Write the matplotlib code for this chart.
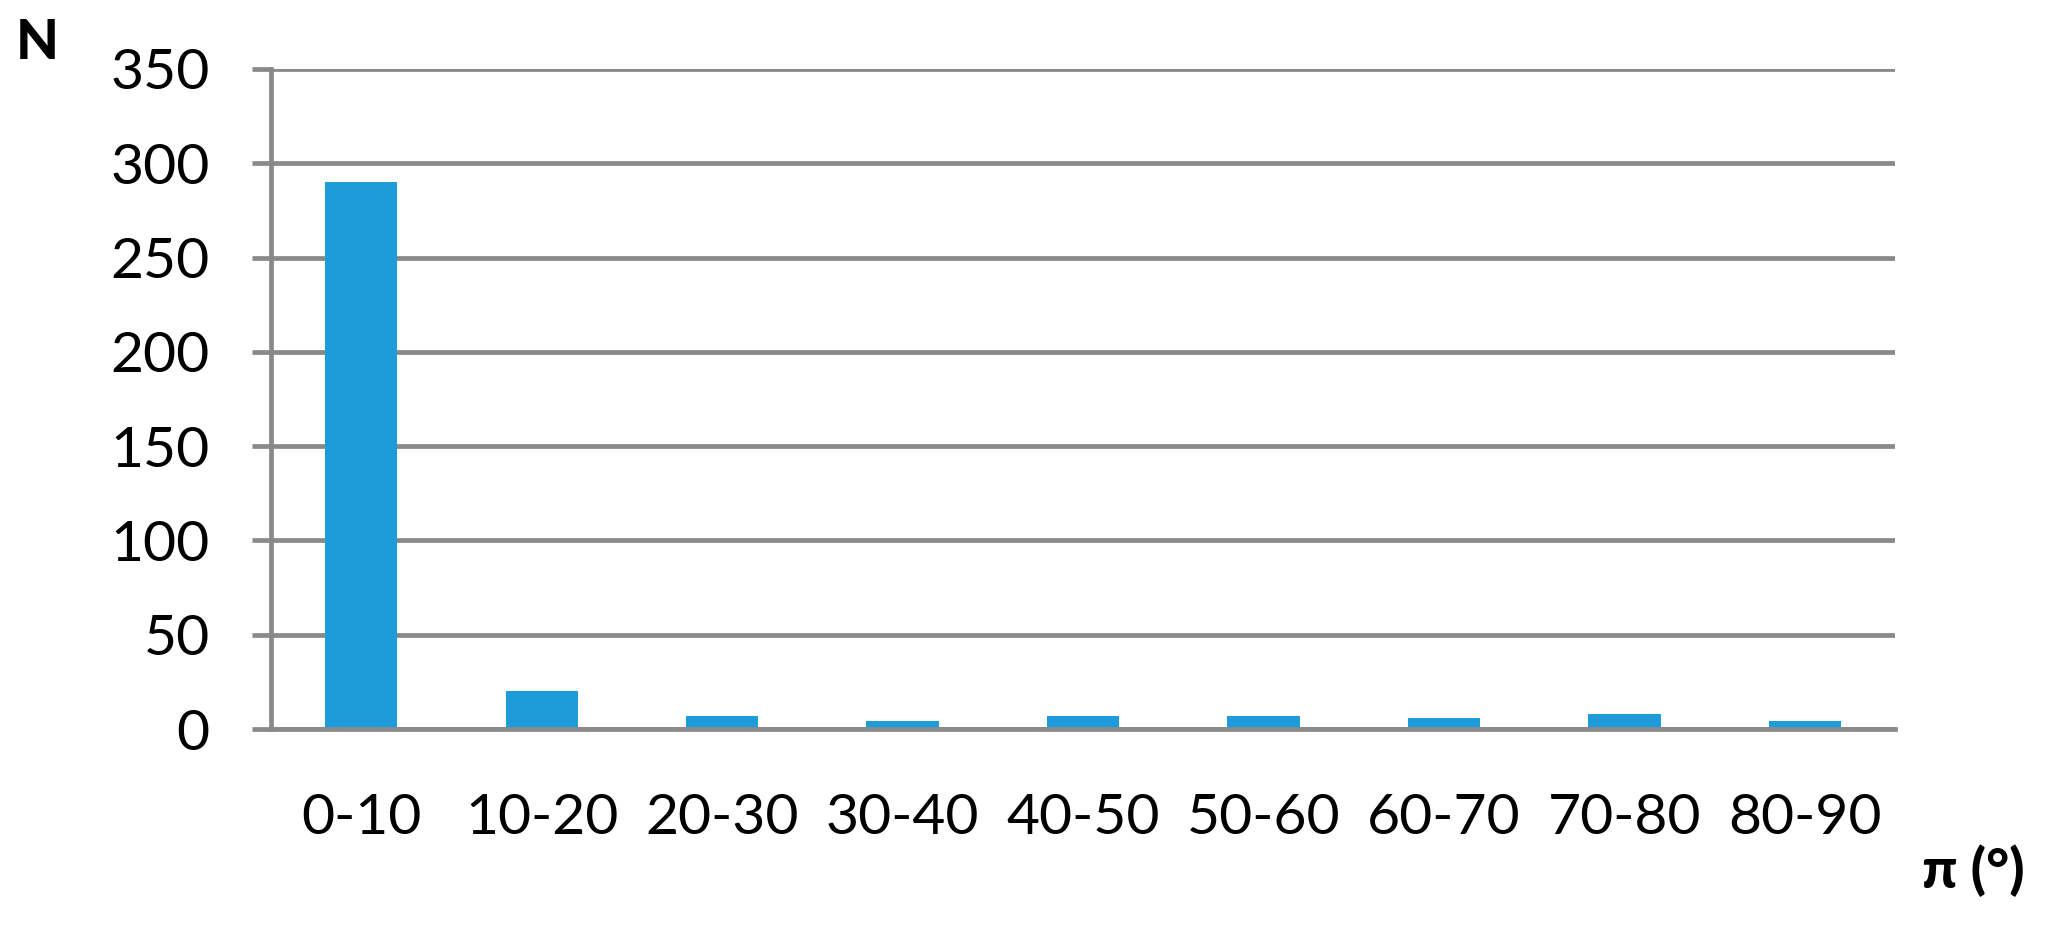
import matplotlib
import matplotlib.pyplot as plt

matplotlib.use('Agg')

# data
categories = ['0-10', '10-20', '20-30', '30-40', '40-50', '50-60', '60-70', '70-80', '80-90']
counts = [290, 20, 7, 4, 7, 7, 6, 8, 4]
y_ticks = [0, 50, 100, 150, 200, 250, 300, 350]

bar_color = '#1D9CD9'
line_color = '#898989'
line_w = 3.4

plt.rcParams['font.family'] = ['Lato', 'DejaVu Sans']

fig = plt.figure(figsize=(20.45, 9.26), dpi=100)
ax = fig.add_axes([0.1325, 0.2127, 0.9267 - 0.1325, 0.9255 - 0.2127])

x = list(range(len(categories)))
ax.bar(x, counts, width=0.4, color=bar_color, zorder=3)

ax.set_xlim(-0.5, len(categories) - 0.5)
ax.set_ylim(0, 350)
ax.set_yticks(y_ticks)
ax.set_xticks(x)
ax.set_xticklabels(categories)

# gridlines and axes in Excel grey
ax.yaxis.grid(True, color=line_color, linewidth=line_w, zorder=1)
ax.set_axisbelow(True)
for side in ['top', 'right']:
    ax.spines[side].set_visible(False)
for side in ['left', 'bottom']:
    ax.spines[side].set_color(line_color)
    ax.spines[side].set_linewidth(line_w)
    ax.spines[side].set_zorder(4)

ax.tick_params(axis='y', direction='out', length=14, width=line_w, color=line_color,
               labelsize=41, pad=30)
ax.tick_params(axis='x', length=0, labelsize=41, pad=46)

# axis titles sit in the corners, as in the original
fig.text(37 / 2045, 1 - 43 / 926, 'N', fontsize=40, fontweight='black', ha='center', va='center')
fig.text(1973 / 2045, 1 - 871 / 926, 'π (°)', fontsize=40, fontweight='black', ha='center', va='center')

plt.savefig('out.png', dpi=100)
plt.close()
